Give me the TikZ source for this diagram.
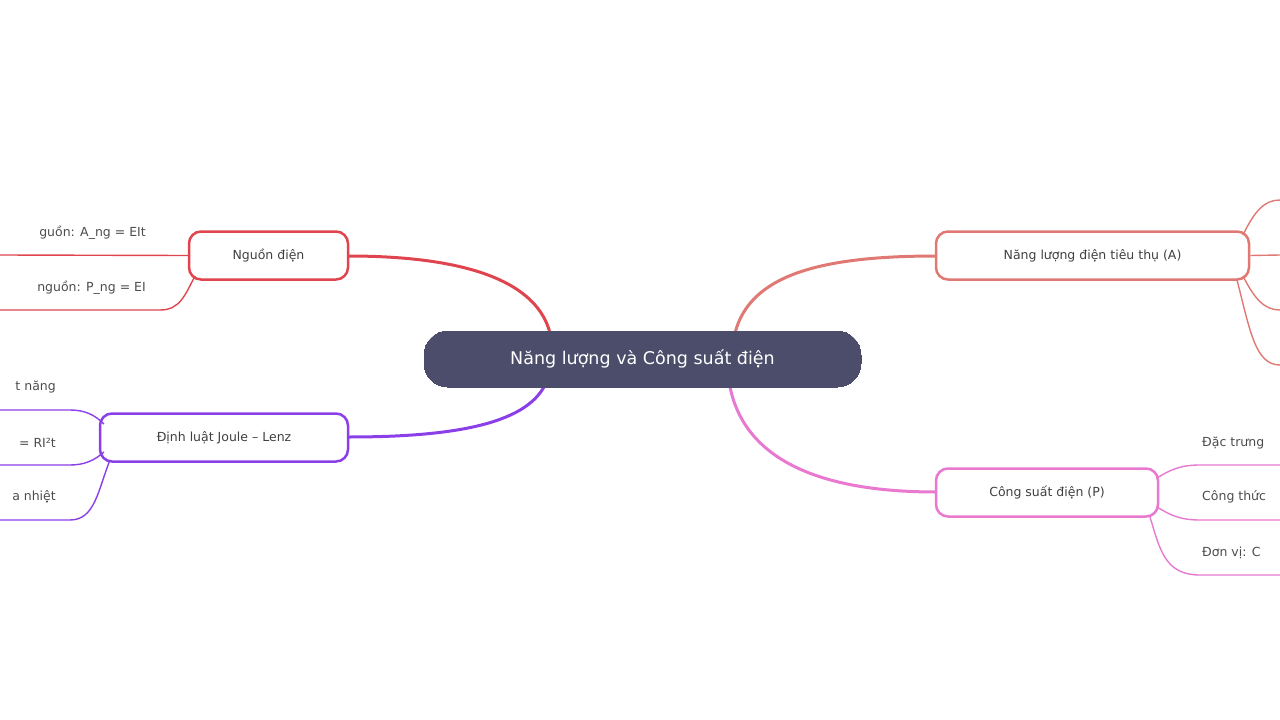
\documentclass[tikz,border=0pt]{standalone}
\usepackage{fontspec}
\setmainfont{DejaVu Sans}
\begin{document}
\begin{tikzpicture}[x=1pt,y=-1pt,
  box/.style={draw=#1,line width=2.5pt,rounded corners=12pt,fill=white,minimum height=48pt,inner xsep=0pt,font=\fontsize{12.5}{14}\selectfont,text=black!75},
  lnk/.style={draw=#1,line width=3pt},
  sub/.style={draw=#1,line width=1.4pt},
  lbl/.style={font=\fontsize{12.5}{14}\selectfont,text=black!70,inner sep=0pt}]
\definecolor{cred}{HTML}{E0454F}
\definecolor{cpur}{HTML}{8A3FE8}
\definecolor{csal}{HTML}{E07873}
\definecolor{cpink}{HTML}{E878D0}
\definecolor{ccen}{HTML}{4B4D6B}
\useasboundingbox (0,0) rectangle (1280,720);
\clip (0,0) rectangle (1280,720);
% main connectors
\coordinate (c1) at (550,333); \coordinate (c2) at (545,385);
\coordinate (c3) at (735,333); \coordinate (c4) at (730,387);
\draw[lnk=cred] (c1) .. controls (535,275) and (450,256) .. (348,256);
\draw[lnk=cpur] (c2) .. controls (525,425) and (450,437) .. (348,437);
\draw[lnk=csal] (c3) .. controls (750,275) and (820,256) .. (936,256);
\draw[lnk=cpink] (c4) .. controls (745,460) and (820,492) .. (936,492);
\node[box=ccen,fill=ccen,text=white,minimum width=437pt,minimum height=56pt,rounded corners=24pt,line width=0pt,font=\fontsize{17.5}{20}\selectfont] (cen) at (642.5,359) {Năng lượng và Công suất điện};
\node[box=cred,minimum width=159pt] (ng) at (268.5,255.5) {Nguồn điện};
\node[box=cpur,minimum width=248pt] (jl) at (224,437.5) {Định luật Joule – Lenz};
\node[box=csal,minimum width=313pt] (na) at (1092.5,255.5) {Năng lượng điện tiêu thụ (A)};
\node[box=cpink,minimum width=222pt] (cs) at (1047,492.5) {Công suất điện (P)};
% left sub-branches
\coordinate (l1) at (0,255); \coordinate (l2) at (0,310);
\coordinate (j1) at (0,410); \coordinate (j2) at (0,465); \coordinate (j3) at (0,520);
\draw[sub=cred] (ng.west) -- (l1);
\draw[sub=cred] (195,276) .. controls (185,295) and (180,310) .. (160,310) -- (l2);
\draw[sub=cpur] (104,424) .. controls (95,415) and (85,410) .. (70,410) -- (j1);
\draw[sub=cpur] (104,452) .. controls (95,460) and (85,465) .. (70,465) -- (j2);
\draw[sub=cpur] (110,460) .. controls (98,490) and (95,520) .. (70,520) -- (j3);
\node[lbl,anchor=east] (t1) at (146,233) {guồn: A\_ng = EIt};
\node[lbl,anchor=east] (t2) at (146,288) {nguồn: P\_ng = EI};
\node[lbl,anchor=east] (t3) at (56,387) {t năng};
\node[lbl,anchor=east] (t4) at (56,443) {= RI²t};
\node[lbl,anchor=east] (t5) at (56,497) {a nhiệt};
% right sub-branches
\coordinate (r1) at (1280,200); \coordinate (r2) at (1280,255);
\coordinate (r3) at (1280,310); \coordinate (r4) at (1280,365);
\draw[sub=csal] (1243,235) .. controls (1255,210) and (1265,200) .. (r1);
\draw[sub=csal] (na.east) -- (r2);
\draw[sub=csal] (1243,276) .. controls (1255,300) and (1265,310) .. (r3);
\draw[sub=csal] (1237,280) .. controls (1250,330) and (1255,365) .. (r4);
\coordinate (p1) at (1280,465); \coordinate (p2) at (1280,520); \coordinate (p3) at (1280,575);
\draw[sub=cpink] (1157,478) .. controls (1170,470) and (1180,465) .. (1200,465) -- (p1);
\draw[sub=cpink] (1157,507) .. controls (1170,515) and (1180,520) .. (1200,520) -- (p2);
\draw[sub=cpink] (1150,517) .. controls (1160,550) and (1165,575) .. (1200,575) -- (p3);
\node[lbl,anchor=west] (u1) at (1202,443) {Đặc trưng};
\node[lbl,anchor=west] (u2) at (1202,497) {Công thức};
\node[lbl,anchor=west] (u3) at (1202,553) {Đơn vị: C};
\end{tikzpicture}
\end{document}
